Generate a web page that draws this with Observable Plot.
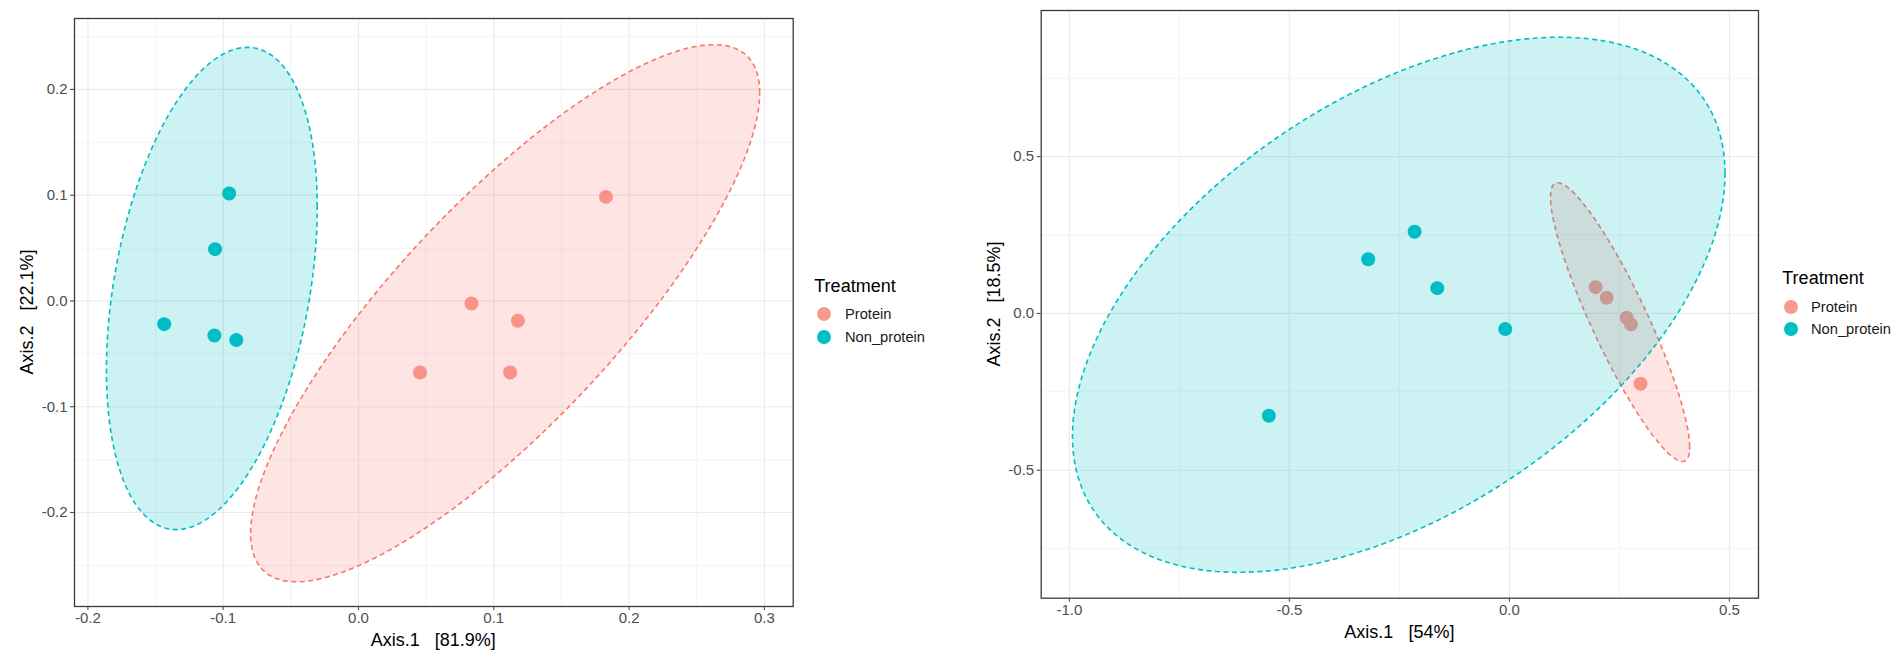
<!DOCTYPE html>
<html>
<head>
<meta charset="utf-8">
<script src="https://cdn.jsdelivr.net/npm/d3@7"></script>
<script src="https://cdn.jsdelivr.net/npm/@observablehq/plot@0.6"></script>
<style>
  html, body { margin: 0; padding: 0; background: #fff; }
  #root { position: relative; width: 1902px; height: 659px; overflow: hidden; font-family: "Liberation Sans", Arial, sans-serif; }
  .abs { position: absolute; white-space: pre; }
  .ytitle { transform: translate(-50%, -50%) rotate(-90deg); font-size: 18px; color: #000; line-height: 20px; }
  .xtitle { transform: translate(-50%, -50%); font-size: 18px; color: #000; line-height: 20px; }
  .ltitle { font-size: 18px; color: #000; line-height: 20px; transform: translateY(-50%); }
  .llabel { font-size: 14.7px; color: #1a1a1a; line-height: 18px; transform: translateY(-50%); }
  .key { width: 14px; height: 14px; border-radius: 50%; transform: translate(-50%, -50%); }
</style>
</head>
<body>
<div id="root"></div>
<script>
// ---------- data ----------
const groups = ["Protein", "Non_protein"];
const lineColors = {Protein: "#F8766D", Non_protein: "#00BFC4"};
const pointColors = {Protein: "#F99A90", Non_protein: "#00BFC4"};

// Left panel (Axis.1 81.9%, Axis.2 22.1%)
const leftProteinX = [0.1829, 0.0835, 0.1178, 0.0455, 0.1121];
const leftProteinY = [0.0984, -0.0024, -0.0187, -0.0677, -0.0677];
const leftNonX = [-0.0956, -0.1060, -0.1436, -0.1065, -0.0903];
const leftNonY = [0.1016, 0.0490, -0.0219, -0.0327, -0.0370];
// ellipse: centre and shape matrix [Sxx, Sxy, Syy], per group (Protein, Non_protein)
const leftEllCx = [0.1084, -0.1084];
const leftEllCy = [-0.0116, 0.0118];
const leftEllSxx = [0.0354, 0.00607];
const leftEllSxy = [0.0392, 0.0060];
const leftEllSyy = [0.0645, 0.0520];
const leftXTicks = [-0.2, -0.1, 0.0, 0.1, 0.2, 0.3];
const leftXMinor = [-0.15, -0.05, 0.05, 0.15, 0.25];
const leftYTicks = [-0.2, -0.1, 0.0, 0.1, 0.2];
const leftYMinor = [-0.25, -0.15, -0.05, 0.05, 0.15, 0.25];
const leftXDomain = [-0.2099, 0.3213];
const leftYDomain = [-0.2889, 0.2671];
const leftXTitle = "Axis.1\u00a0\u00a0\u00a0[81.9%]";
const leftYTitle = "Axis.2\u00a0\u00a0\u00a0[22.1%]";

// Right panel (Axis.1 54%, Axis.2 18.5%)
const rightProteinX = [0.1959, 0.2209, 0.2664, 0.2761, 0.2980];
const rightProteinY = [0.0839, 0.0500, -0.0137, -0.0350, -0.2240];
const rightNonX = [-0.2155, -0.1640, -0.0095, -0.3209, -0.5466];
const rightNonY = [0.2605, 0.0807, -0.0500, 0.1730, -0.3260];
const rightEllCx = [0.2515, -0.2515];
const rightEllCy = [-0.0278, 0.0276];
const rightEllSxx = [0.0250, 0.5498];
const rightEllSxy = [-0.0630, 0.3110];
const rightEllSyy = [0.1976, 0.7280];
const rightXTicks = [-1.0, -0.5, 0.0, 0.5];
const rightXMinor = [-0.75, -0.25, 0.25];
const rightYTicks = [-0.5, 0.0, 0.5];
const rightYMinor = [-0.75, -0.25, 0.25, 0.75];
const rightXDomain = [-1.064, 0.566];
const rightYDomain = [-0.908, 0.966];
const rightXTitle = "Axis.1\u00a0\u00a0\u00a0[54%]";
const rightYTitle = "Axis.2\u00a0\u00a0\u00a0[18.5%]";

const legendTitle = "Treatment";

// ---------- helpers ----------
const FONT = '"Liberation Sans", Arial, sans-serif';
function toPoints(xs, ys, g) { return xs.map((x, i) => ({x, y: ys[i], g})); }
function ellipseOutline(cx, cy, sxx, sxy, syy) {
  const a = Math.sqrt(sxx), b = sxy / a, c = Math.sqrt(syy - b * b);
  const out = [];
  const n = 180;
  for (let i = 0; i <= n; i++) {
    const t = 2 * Math.PI * i / n;
    out.push({x: cx + a * Math.cos(t), y: cy + b * Math.cos(t) + c * Math.sin(t)});
  }
  return out;
}
const fmt = d => d.toFixed(1);

function panel(cfg) {
  const pts = [...toPoints(cfg.px[0], cfg.py[0], "Protein"), ...toPoints(cfg.px[1], cfg.py[1], "Non_protein")];
  const ellMarks = groups.map((g, i) => {
    const o = ellipseOutline(cfg.ecx[i], cfg.ecy[i], cfg.esxx[i], cfg.esxy[i], cfg.esyy[i]);
    return Plot.line(o, {x: "x", y: "y", fill: lineColors[g], fillOpacity: 0.2, stroke: lineColors[g],
      strokeWidth: 1.6, strokeDasharray: "5,3.5", strokeLinecap: "butt", curve: "linear"});
  });
  const dotMarks = groups.map(g => Plot.dot(pts.filter(d => d.g === g), {x: "x", y: "y", r: 7, fill: pointColors[g], stroke: "none"}));
  return Plot.plot({
    width: cfg.width, height: 659,
    marginLeft: cfg.ml, marginRight: cfg.mr, marginTop: cfg.mt, marginBottom: cfg.mb,
    x: {domain: cfg.xDomain, label: null},
    y: {domain: cfg.yDomain, label: null},
    style: {fontFamily: FONT, background: "transparent", overflow: "visible"},
    marks: [
      Plot.gridX(cfg.xMinor, {stroke: "#EBEBEB", strokeOpacity: 1, strokeWidth: 0.6}),
      Plot.gridY(cfg.yMinor, {stroke: "#EBEBEB", strokeOpacity: 1, strokeWidth: 0.6}),
      Plot.gridX(cfg.xTicks, {stroke: "#EBEBEB", strokeOpacity: 1, strokeWidth: 1.2}),
      Plot.gridY(cfg.yTicks, {stroke: "#EBEBEB", strokeOpacity: 1, strokeWidth: 1.2}),
      ...dotMarks,
      ...ellMarks,
      Plot.frame({stroke: "#3a3a3a", strokeWidth: 1.3}),
      Plot.axisX({ticks: cfg.xTicks, tickFormat: fmt, tickSize: 4, tickPadding: 2, fontSize: 15, color: "#4D4D4D", strokeWidth: 1.1, label: null}),
      Plot.axisY({ticks: cfg.yTicks, tickFormat: fmt, tickSize: 4, tickPadding: 3, fontSize: 15, color: "#4D4D4D", strokeWidth: 1.1, label: null})
    ]
  });
}

const root = document.getElementById("root");
function place(el, left, top) { el.style.position = "absolute"; el.style.left = left + "px"; el.style.top = top + "px"; root.appendChild(el); }
function div(cls, text, left, top, extra) {
  const d = document.createElement("div");
  d.className = "abs " + cls;
  if (text != null) d.textContent = text;
  d.style.left = left + "px"; d.style.top = top + "px";
  if (extra) Object.assign(d.style, extra);
  root.appendChild(d);
  return d;
}
function legend(titleX, titleY, keyX, key1Y, key2Y, labelX) {
  div("ltitle", legendTitle, titleX, titleY);
  [key1Y, key2Y].forEach((ky, i) => {
    div("key", null, keyX, ky, {background: pointColors[groups[i]]});
    div("llabel", groups[i], labelX, ky);
  });
}

// left panel
place(panel({
  width: 800, ml: 74, mr: 7.3, mt: 18, mb: 53,
  xDomain: leftXDomain, yDomain: leftYDomain,
  xTicks: leftXTicks, xMinor: leftXMinor, yTicks: leftYTicks, yMinor: leftYMinor,
  px: [leftProteinX, leftNonX], py: [leftProteinY, leftNonY],
  ecx: leftEllCx, ecy: leftEllCy, esxx: leftEllSxx, esxy: leftEllSxy, esyy: leftEllSyy
}), 0, 0);
div("xtitle", leftXTitle, 433.3, 640);
div("ytitle", leftYTitle, 27, 312);
legend(814.3, 286, 824.3, 314, 336.7, 845);

// right panel
place(panel({
  width: 800, ml: 80.7, mr: 2, mt: 10, mb: 61.3,
  xDomain: rightXDomain, yDomain: rightYDomain,
  xTicks: rightXTicks, xMinor: rightXMinor, yTicks: rightYTicks, yMinor: rightYMinor,
  px: [rightProteinX, rightNonX], py: [rightProteinY, rightNonY],
  ecx: rightEllCx, ecy: rightEllCy, esxx: rightEllSxx, esxy: rightEllSxy, esyy: rightEllSyy
}), 960, 0);
div("xtitle", rightXTitle, 1399.4, 632);
div("ytitle", rightYTitle, 994, 304);
legend(1782.3, 278.3, 1791, 306.7, 329, 1811);
</script>
</body>
</html>
